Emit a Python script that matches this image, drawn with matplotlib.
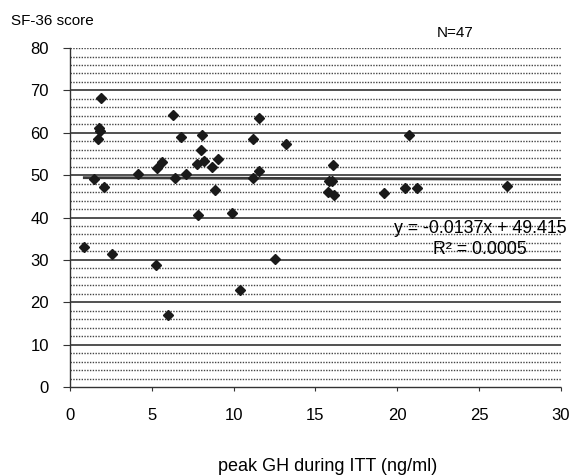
import matplotlib
matplotlib.use("Agg")
import matplotlib.pyplot as plt
import numpy as np

plt.rcParams['font.family'] = ['Liberation Sans', 'DejaVu Sans']

# peak GH during ITT (ng/ml) vs SF-36 score
peak_gh = [0.88, 1.45, 1.75, 1.85, 1.72, 1.87, 2.06, 2.58, 4.15, 5.25,
           5.30, 5.65, 6.00, 6.27, 6.43, 6.78, 7.08, 7.85, 7.78, 8.20,
           7.98, 8.10, 8.70, 9.06, 8.88, 9.88, 10.38, 11.16, 11.57, 11.16,
           11.56, 12.54, 13.20, 16.05, 15.80, 16.00, 15.78, 16.13, 19.20, 20.46,
           21.20, 20.73, 26.68]
sf36 = [33.0, 49.0, 61.1, 60.4, 58.6, 68.1, 47.3, 31.3, 50.3, 28.8,
        51.6, 53.2, 17.0, 64.3, 49.3, 59.1, 50.3, 40.7, 52.7, 53.3,
        55.9, 59.4, 51.9, 53.9, 46.5, 41.0, 23.0, 58.6, 63.6, 49.4,
        51.0, 30.2, 57.3, 52.3, 48.7, 48.7, 46.0, 45.3, 45.8, 47.0,
        47.0, 59.4, 47.5]

slope = -0.0137
intercept = 49.415

fig = plt.figure(figsize=(5.73, 4.76), dpi=100)
ax = fig.add_axes([0.122, 0.187, 0.857, 0.712])

# grid: solid every 10, dotted every 2
for yv in range(2, 81, 2):
    if yv % 10 == 0 and yv != 80:
        ax.axhline(yv, color='#222222', lw=1.1, zorder=1)
    else:
        ax.axhline(yv, color='#444444', lw=1.0, ls=(0, (1, 1)), zorder=1)

xs = np.array([min(peak_gh), 30])
ax.plot(xs, slope * xs + intercept, color='#3a3a3a', lw=2.0, zorder=2)

ax.plot(peak_gh, sf36, ls='none', marker='D', ms=5.5, color='#1a1a1a',
        markeredgecolor='#1a1a1a', zorder=3)

ax.set_xlim(0, 30)
ax.set_ylim(0, 80)
ax.set_xticks(range(0, 31, 5))
ax.set_yticks(range(0, 81, 10))
ax.tick_params(labelsize=12, width=0.8, color='#333333')
ax.tick_params(axis='x', length=3, pad=12)
ax.tick_params(axis='y', length=5, pad=10)

for s in ['top', 'right']:
    ax.spines[s].set_visible(False)
for s in ['left', 'bottom']:
    ax.spines[s].set_linestyle((0, (1, 1)))
    ax.spines[s].set_color('#333333')
    ax.spines[s].set_linewidth(1.0)

fig.text(0.02, 0.955, 'SF-36 score', fontsize=11, va='center', ha='left')
fig.text(0.794, 0.931, 'N=47', fontsize=11, va='center', ha='center')
fig.text(0.838, 0.521, 'y = -0.0137x + 49.415', fontsize=12.8, va='center', ha='center')
fig.text(0.838, 0.475, 'R² = 0.0005', fontsize=12.8, va='center', ha='center')
fig.text(0.572, 0.019, 'peak GH during ITT (ng/ml)', fontsize=13, va='center', ha='center')

fig.savefig('out.png', dpi=100)
